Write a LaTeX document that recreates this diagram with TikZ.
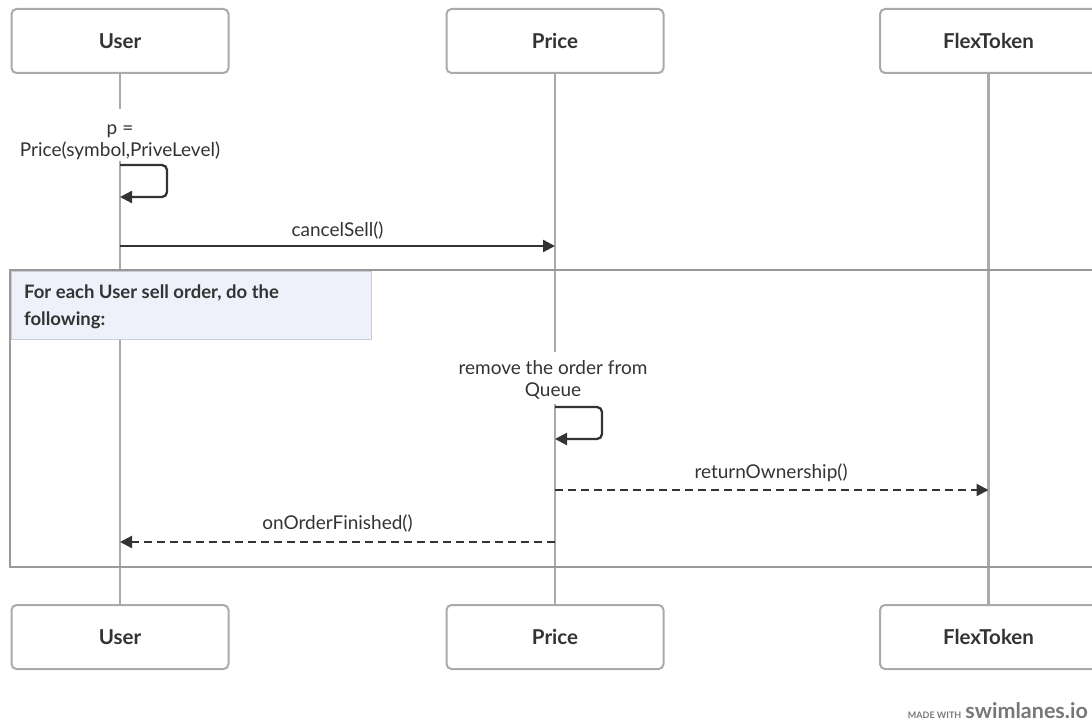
\documentclass[tikz,border=0pt]{standalone}
\usepackage{fontspec}
\setmainfont{Lato}
\usetikzlibrary{arrows.meta}
\definecolor{txt}{HTML}{333333}
\definecolor{life}{HTML}{AAAAAA}
\definecolor{frame}{HTML}{999999}
\definecolor{lblfill}{HTML}{EEF1FA}
\definecolor{lblborder}{HTML}{C8CCD6}
\definecolor{wm}{HTML}{777777}
\tikzset{
  actor/.style={draw=life, line width=2pt, rounded corners=5pt, fill=white,
    minimum width=217pt, minimum height=64pt, inner sep=0pt,
    font=\fontsize{20.5}{24}\selectfont\bfseries, text=txt},
  lifeline/.style={draw=life, line width=2.5pt},
  msg/.style={draw=txt, line width=2.3pt, -{Triangle[length=12pt,width=12pt]}},
  dmsg/.style={msg, dash pattern=on 8pt off 5pt},
  lbl/.style={font=\fontsize{19}{22.5}\selectfont, text=txt, align=center, inner sep=0pt},
}
\begin{document}
\begin{tikzpicture}[x=1pt,y=-1pt]
\useasboundingbox (0,0) rectangle (1092,725);
% actors
\node[actor] (u1) at (120,41) {User};
\node[actor] (p1) at (555,41) {Price};
\node[actor] (f1) at (988.5,41) {FlexToken};
\node[actor] (u2) at (120,637) {User};
\node[actor] (p2) at (555,637) {Price};
\node[actor] (f2) at (988.5,637) {FlexToken};
% lifelines
\coordinate (ug1) at (120,109);
\coordinate (ug2) at (120,161);
\coordinate (pg1) at (555,352);
\coordinate (pg2) at (555,404);
\draw[lifeline] (u1.south) -- (ug1);
\draw[lifeline] (ug2) -- (u2.north);
\draw[lifeline] (p1.south) -- (pg1);
\draw[lifeline] (pg2) -- (p2.north);
\draw[lifeline] (f1.south) -- (f2.north);
% loop frame
\draw[draw=frame, line width=2.5pt] (1100,270) -- (10,270) -- (10,567) -- (1100,567);
\node[draw=lblborder, line width=1pt, fill=lblfill, minimum width=360pt, minimum height=68pt,
  anchor=north west, inner sep=0pt] (lb) at (10.5,270.5) {};
\node[anchor=north west, align=left, font=\fontsize{18.5}{27}\selectfont\bfseries, text=txt, inner sep=0pt]
  (lbt) at (24,285) {For each User sell order, do the\\following:};
% self message 1
\node[lbl] (t1) at (120,142) {p =\\Price(symbol,PriveLevel)};
\coordinate (s1a) at (120,165);
\coordinate (s1b) at (167,165);
\coordinate (s1c) at (167,197);
\coordinate (s1d) at (120,197);
\draw[msg, rounded corners=5pt] (s1a) -- (s1b) -- (s1c) -- (s1d);
% cancelSell
\coordinate (c1) at (120,246);
\coordinate (c2) at (555,246);
\draw[msg] (c1) -- (c2);
\node[lbl] (t2) at (337.5,231) {cancelSell()};
% self message 2
\node[lbl] (t3) at (553,380) {remove the order from\\Queue};
\coordinate (s2a) at (555,407);
\coordinate (s2b) at (602,407);
\coordinate (s2c) at (602,439);
\coordinate (s2d) at (555,439);
\draw[msg, rounded corners=5pt] (s2a) -- (s2b) -- (s2c) -- (s2d);
% returnOwnership
\coordinate (r1) at (555,490);
\coordinate (r2) at (988.5,490);
\draw[dmsg] (r1) -- (r2);
\node[lbl] (t4) at (771,473) {returnOwnership()};
% onOrderFinished
\coordinate (o1) at (555,542);
\coordinate (o2) at (120,542);
\draw[dmsg] (o1) -- (o2);
\node[lbl] (t5) at (337.5,524) {onOrderFinished()};
% watermark
\node[anchor=base east, inner sep=0pt, text=wm] (wm) at (1088,718)
  {{\fontsize{9}{10}\selectfont\bfseries MADE WITH}\hspace{4pt}{\fontsize{21.5}{24}\selectfont\bfseries swimlanes.io}};
\end{tikzpicture}
\end{document}
